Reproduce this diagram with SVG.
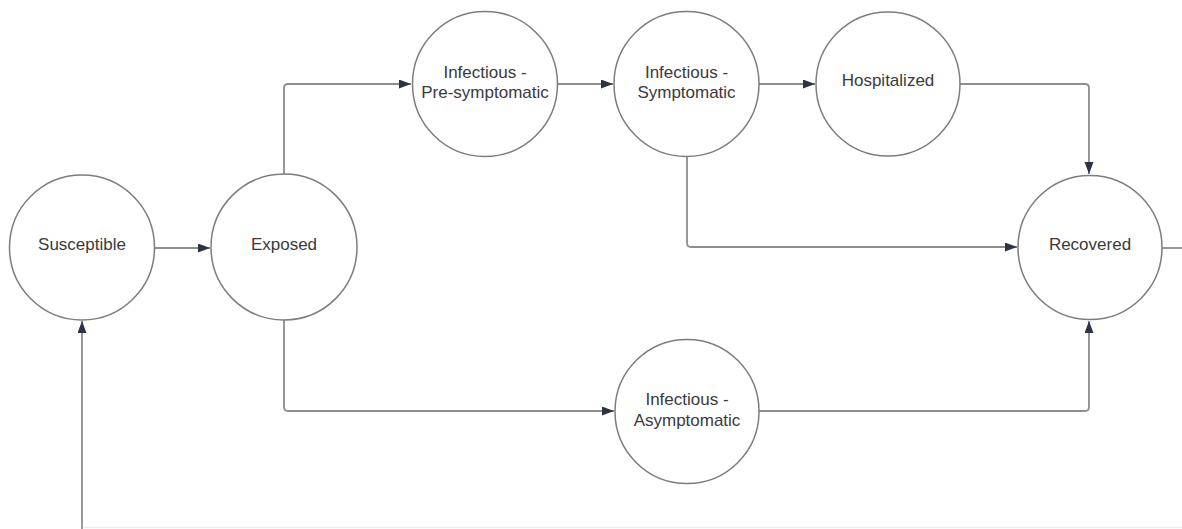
<svg xmlns="http://www.w3.org/2000/svg" width="1182" height="529" viewBox="0 0 1182 529">
  <style>
    .node circle { fill: #ffffff; stroke: #7d7d7d; stroke-width: 1.5; }
    .node text { font-family: "Liberation Sans", Arial, sans-serif; font-size: 17px; fill: #3a3a3a; text-anchor: middle; }
    .conn path { fill: none; stroke: #8e8e8e; stroke-width: 1.8; }
    .conn .faint { stroke: #ececec; stroke-width: 1.5; }
  </style>
  <defs>
    <marker id="arrow" markerUnits="userSpaceOnUse" markerWidth="13" markerHeight="10" refX="12" refY="4.5" orient="auto">
      <path d="M0,0 L12,4.5 L0,9 Z" fill="#2d3340"/>
    </marker>
  </defs>
  <rect width="1182" height="529" fill="#ffffff"/>

  <g id="connectors" class="conn">
    <path d="M154,248 L210,248" marker-end="url(#arrow)"/>
    <path d="M284,174 L284,88 Q284,84 288,84 L411,84" marker-end="url(#arrow)"/>
    <path d="M558,84 L613,84" marker-end="url(#arrow)"/>
    <path d="M759,84 L815,84" marker-end="url(#arrow)"/>
    <path d="M960,84 L1085,84 Q1089,84 1089,88 L1089,174" marker-end="url(#arrow)"/>
    <path d="M687,156 L687,243 Q687,247 691,247 L1017,247" marker-end="url(#arrow)"/>
    <path d="M284,320 L284,407 Q284,411 288,411 L614,411" marker-end="url(#arrow)"/>
    <path d="M759,411 L1085,411 Q1089,411 1089,407 L1089,321" marker-end="url(#arrow)"/>
    <path d="M1162,248 L1182,248"/>
    <path d="M82,529 L82,321" marker-end="url(#arrow)"/>
    <path class="faint" d="M84,527.5 L1182,527.5"/>
  </g>

  <g id="susceptible" class="node">
    <circle cx="82" cy="247.5" r="72.5"/>
    <text x="82" y="250">Susceptible</text>
  </g>
  <g id="exposed" class="node">
    <circle cx="284" cy="247" r="73"/>
    <text x="284" y="250">Exposed</text>
  </g>
  <g id="infectious-presymptomatic" class="node">
    <circle cx="485" cy="84" r="72.5"/>
    <text x="485" y="78">Infectious -</text>
    <text x="485" y="98">Pre-symptomatic</text>
  </g>
  <g id="infectious-symptomatic" class="node">
    <circle cx="686.5" cy="84" r="72.5"/>
    <text x="686.5" y="78">Infectious -</text>
    <text x="686.5" y="98">Symptomatic</text>
  </g>
  <g id="hospitalized" class="node">
    <circle cx="888" cy="84" r="72"/>
    <text x="888" y="86">Hospitalized</text>
  </g>
  <g id="recovered" class="node">
    <circle cx="1090" cy="247.5" r="72"/>
    <text x="1090" y="250">Recovered</text>
  </g>
  <g id="infectious-asymptomatic" class="node">
    <circle cx="687" cy="411.5" r="72"/>
    <text x="687" y="405">Infectious -</text>
    <text x="687" y="426">Asymptomatic</text>
  </g>
</svg>
